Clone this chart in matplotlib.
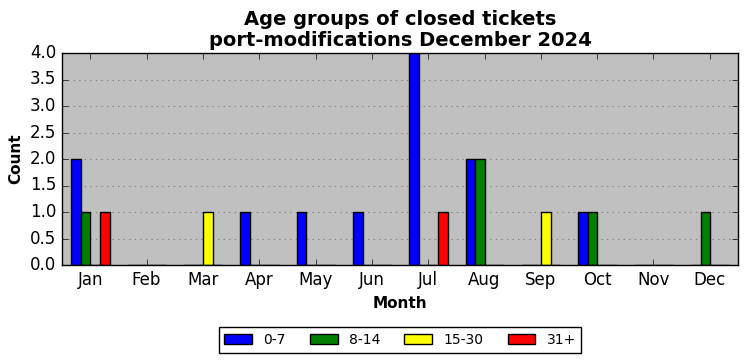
import numpy as np
import matplotlib.pyplot as plt

months = ['Jan', 'Feb', 'Mar', 'Apr', 'May', 'Jun',
          'Jul', 'Aug', 'Sep', 'Oct', 'Nov', 'Dec']
groups = ['0-7', '8-14', '15-30', '31+']
colors = ['blue', 'green', 'yellow', 'red']
age_0_7 = [2, 0, 0, 1, 1, 1, 4, 2, 0, 1, 0, 0]
age_8_14 = [1, 0, 0, 0, 0, 0, 0, 2, 0, 1, 0, 1]
age_15_30 = [0, 0, 1, 0, 0, 0, 0, 0, 1, 0, 0, 0]
age_31_plus = [1, 0, 0, 0, 0, 0, 1, 0, 0, 0, 0, 0]
series = [age_0_7, age_8_14, age_15_30, age_31_plus]

plt.style.use('classic')
fig = plt.figure(figsize=(7.47, 3.61), dpi=100)
ax = fig.add_axes([62 / 747, 96 / 361, 676 / 747, 212 / 361])
ax.set_facecolor('#c0c0c0')

x = np.arange(len(months))
w = 0.17
for i, (vals, col, lab) in enumerate(zip(series, colors, groups)):
    ax.bar(x - 0.25 + i * w, vals, width=w, color=col, edgecolor='black',
           linewidth=1, label=lab, align='center')

ax.set_xlim(-0.5, 11.5)
ax.set_ylim(0, 4)
ax.set_yticks(np.arange(0, 4.01, 0.5))
ax.set_xticks(x)
ax.set_xticklabels(months)
ax.tick_params(labelsize=12)
ax.yaxis.grid(True, color='gray', linestyle=':', linewidth=0.8)
ax.set_axisbelow(True)

ax.set_title('Age groups of closed tickets\nport-modifications December 2024',
             fontsize=14, fontweight='bold', linespacing=1.15)
ax.set_xlabel('Month', fontsize=11, fontweight='bold')
ax.set_ylabel('Count', fontsize=11, fontweight='bold')

ax.legend(loc='upper center', bbox_to_anchor=(0.5, -0.262), ncol=4,
          fontsize=10, frameon=True, fancybox=False, handlelength=2.0,
          columnspacing=1.75, borderpad=0.4, handletextpad=0.8)

fig.savefig('out.png', dpi=100)
